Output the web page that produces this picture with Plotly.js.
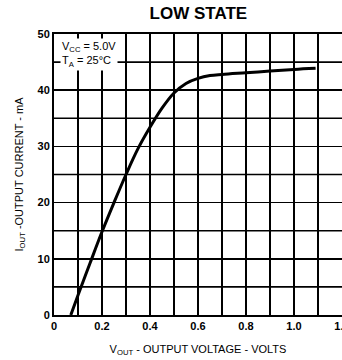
<!DOCTYPE html>
<html><head><meta charset="utf-8">
<script src="https://cdn.plot.ly/plotly-3.0.1.min.js"></script>
<style>html,body{margin:0;padding:0;background:#fff}#c{width:342px;height:360px}</style>
</head><body><div id="c"></div>
<script>
const vout = [0.07,0.1,0.15,0.2,0.25,0.3,0.35,0.4,0.45,0.5,0.55,0.6,0.65,0.7,0.8,0.9,1.0,1.09];
const iout = [0,3.5,9.2,14.8,20,25,29.6,33.4,36.8,39.5,41.2,42.1,42.6,42.8,43.1,43.4,43.7,43.9];
const xTickVals = [0,0.2,0.4,0.6,0.8,1.0,1.2];
const xTickText = ['0','0.2','0.4','0.6','0.8','1.0','1.2'];
const yTickVals = [0,10,20,30,40,50];
const yTickText = ['0','10','20','30','40','50'];
const yMinorGrid = [5,15,25,35,45];

const font = "'Liberation Sans Narrow', 'Liberation Sans', Arial, sans-serif";
const gridShapes = yMinorGrid.map(v => ({
  type: 'line', xref: 'paper', yref: 'y', x0: 0, x1: 1, y0: v, y1: v,
  layer: 'below', line: {color: '#000', width: 1.6}
}));
Plotly.newPlot('c', [{
  x: vout, y: iout, type: 'scatter', mode: 'lines',
  line: {color: '#000', width: 3, shape: 'spline', smoothing: 1},
  hoverinfo: 'skip'
}], {
  width: 342, height: 360,
  margin: {l: 54, r: 0, t: 34, b: 45},
  paper_bgcolor: '#fff', plot_bgcolor: '#fff',
  showlegend: false,
  shapes: gridShapes,
  title: {text: '<b>LOW STATE</b>', font: {family: 'Liberation Sans, Arial, sans-serif', size: 17, color: '#000'},
          x: 0.58, xanchor: 'center', y: 0.965, yanchor: 'middle'},
  xaxis: {
    range: [0, 1.2], tickvals: xTickVals, ticktext: xTickText, ticks: '',
    ticklabeloverflow: 'allow',
    showgrid: true, gridcolor: '#000', gridwidth: 1.6,
    minor: {dtick: 0.1, tick0: 0, showgrid: true, gridcolor: '#000', gridwidth: 1.6, ticks: ''},
    showline: true, linecolor: '#000', linewidth: 2, mirror: true, zeroline: false,
    tickfont: {family: font, size: 11, color: '#000', weight: 'bold'},
    title: {text: 'V<sub>OUT</sub> - OUTPUT VOLTAGE - VOLTS', font: {family: font, size: 11, color: '#000'}, standoff: 14},
    automargin: false, fixedrange: true
  },
  yaxis: {
    range: [0, 50], tickvals: yTickVals, ticktext: yTickText, ticks: '',
    showgrid: true, gridcolor: '#000', gridwidth: 1.6,
    showline: true, linecolor: '#000', linewidth: 2, mirror: true, zeroline: false,
    tickfont: {family: font, size: 11, color: '#000', weight: 'bold'},
    title: {text: 'I<sub>OUT</sub> -OUTPUT CURRENT - mA', font: {family: font, size: 11, color: '#000'}, standoff: 12},
    automargin: false, fixedrange: true
  },
  annotations: [{
    xref: 'paper', yref: 'paper', x: 0.02, y: 0.985, xanchor: 'left', yanchor: 'top',
    text: 'V<sub>CC</sub> = 5.0V<br>T<sub>A</sub> = 25°C', showarrow: false, align: 'left',
    bgcolor: '#fff', font: {family: font, size: 11, color: '#000'}
  }]
}, {staticPlot: true, displayModeBar: false});
</script></body></html>
